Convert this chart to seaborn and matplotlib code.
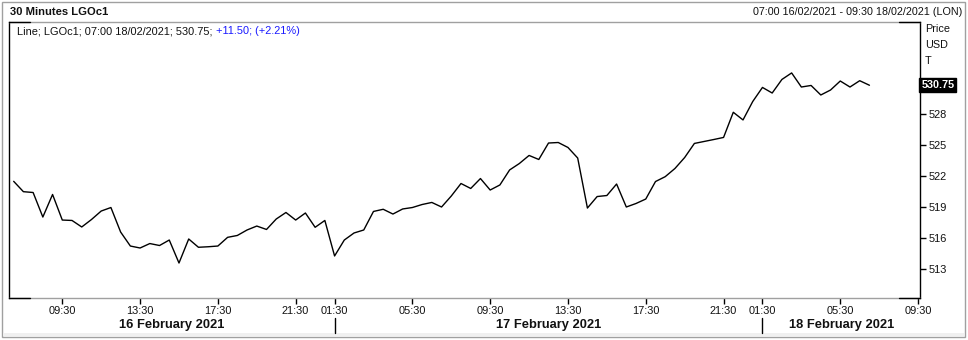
import numpy as np
import pandas as pd
import matplotlib
matplotlib.use("Agg")
import matplotlib.pyplot as plt
import matplotlib.transforms as mtransforms
from matplotlib.patches import Rectangle
from matplotlib.lines import Line2D
import seaborn as sns

# ---------------- data ----------------
sessions = [("2021-02-16", "07:00", "22:30"),
            ("2021-02-17", "01:00", "22:30"),
            ("2021-02-18", "01:00", "09:30")]
day_labels = ["16 February 2021", "17 February 2021", "18 February 2021"]
prices = [
    521.47, 520.47, 520.39, 518.02, 520.20, 517.73, 517.69, 517.06, 517.78, 518.60,
    518.94, 516.57, 515.22, 515.03, 515.46, 515.27, 515.80, 513.58, 515.90, 515.10,
    515.15, 515.22, 516.06, 516.24, 516.77, 517.15, 516.82, 517.83, 518.46, 517.73,
    518.41, 517.03, 517.69, 514.26, 515.80, 516.48, 516.77, 518.56, 518.77, 518.31,
    518.80, 518.94, 519.23, 519.43, 518.99, 520.05, 521.26, 520.78, 521.74, 520.63,
    521.12, 522.57, 523.19, 523.97, 523.58, 525.17, 525.22, 524.74, 523.72, 518.89,
    520.00, 520.10, 521.21, 518.99, 519.33, 519.76, 521.45, 521.92, 522.71, 523.77,
    525.13, 525.32, 525.51, 525.71, 528.14, 527.40, 529.18, 530.54, 530.00, 531.31,
    531.94, 530.58, 530.73, 529.81, 530.29, 531.16, 530.58, 531.19, 530.75,
]
tick_times = ["09:30", "13:30", "17:30", "21:30", "01:30", "05:30"]
day_break_time = "01:30"
y_ticks = [513, 516, 519, 522, 525, 528]
last_price = 530.75
title_text = "30 Minutes LGOc1"
range_text = "07:00 16/02/2021 - 09:30 18/02/2021 (LON)"
legend_black = "Line; LGOc1; 07:00 18/02/2021; 530.75; "
legend_blue = "+11.50; (+2.21%)"
unit_labels = ["Price", "USD", "T"]

# ---------------- build timeline ----------------
bars = pd.concat([pd.Series(pd.date_range(f"{d} {a}", f"{d} {b}", freq="30min"))
                  for d, a, b in sessions], ignore_index=True)
bar_hm = bars.dt.strftime("%H:%M")
df = pd.DataFrame({"idx": np.arange(len(prices)), "price": prices})

tick_idx = [i for i, t in enumerate(bar_hm) if t in tick_times]
tick_lab = [bar_hm[i] for i in tick_idx]
breaks = [i for i, t in enumerate(bar_hm) if t == day_break_time]

# ---------------- style ----------------
sns.set_theme(style="white")
plt.rcParams["font.family"] = ["Liberation Sans", "DejaVu Sans"]

W, H = 968, 340
fig = plt.figure(figsize=(W / 100, H / 100), dpi=100)
fig.patch.set_facecolor("white")

def fx(px):
    return px / W

def fy(py):
    return 1 - py / H

# outer frame and bottom band
fig.patches.append(Rectangle((fx(2), fy(337)), fx(963), 335 / H, transform=fig.transFigure,
                             fill=False, edgecolor="#a0a0a0", lw=1.0))
fig.patches.append(Rectangle((fx(3), fy(336)), fx(961), 3.5 / H, transform=fig.transFigure,
                             facecolor="#f0f0f0", edgecolor="none"))

ax_l, ax_r, ax_t, ax_b = 9, 920, 22, 298
ax = fig.add_axes([fx(ax_l), fy(ax_b), (ax_r - ax_l) / W, (ax_b - ax_t) / H])
ax.set_facecolor("white")

sns.lineplot(data=df, x="idx", y="price", color="black", lw=1.0, ax=ax,
             legend=False)

xmin, xmax = -0.48, 93.2
ax.set_xlim(xmin, xmax)
ax.set_ylim(510.2, 536.86)

# spines
for s in ["left", "right"]:
    ax.spines[s].set_visible(True)
    ax.spines[s].set_color("black")
    ax.spines[s].set_linewidth(1.0)
for s in ["top", "bottom"]:
    ax.spines[s].set_visible(True)
    ax.spines[s].set_color("#a0a0a0")
    ax.spines[s].set_linewidth(1.0)
cw = 21 / (ax_r - ax_l)
for yy in (0, 1):
    for x0 in (0, 1 - cw):
        ax.add_line(Line2D([x0, x0 + cw], [yy, yy], transform=ax.transAxes,
                           color="black", lw=1.0, clip_on=False, zorder=5))

# y axis on right
ax.yaxis.tick_right()
ax.set_yticks(y_ticks)
ax.set_yticklabels([str(v) for v in y_ticks])
ax.tick_params(axis="y", which="major", right=True, left=False, direction="out",
               length=4, width=1, color="black", pad=2.5, labelsize=7.9,
               labelcolor="#111111")
ax.set_ylabel("")

# x axis
ax.set_xticks(tick_idx)
ax.set_xticklabels(tick_lab)
ax.tick_params(axis="x", which="major", bottom=True, direction="out", length=4,
               width=1, color="black", pad=1.5, labelsize=7.9, labelcolor="#111111")
ax.set_xlabel("")

# day labels & separators
bounds = [xmin] + breaks + [xmax]
trans_xd = mtransforms.blended_transform_factory(ax.transData, fig.transFigure)
for k, lab in enumerate(day_labels):
    cx = (bounds[k] + bounds[k + 1]) / 2
    fig.text(cx, fy(325), lab, transform=trans_xd, fontsize=9.3, fontweight="bold",
             ha="center", va="center", color="#111111")
for b in breaks:
    fig.add_artist(Line2D([b, b], [fy(318), fy(333)], transform=trans_xd,
                          color="black", lw=1.0))

# header texts
fig.text(fx(10), fy(12), title_text, fontsize=8.1, fontweight="bold",
         ha="left", va="center", color="#111111")
fig.text(fx(962), fy(12), range_text, fontsize=7.75, ha="right", va="center",
         color="#111111")

# legend line
t1 = ax.text((17 - ax_l) / (ax_r - ax_l), (ax_b - 31.5) / (ax_b - ax_t), legend_black,
             transform=ax.transAxes, fontsize=7.9, ha="left", va="center",
             color="#111111")
ax.annotate(legend_blue, xy=(1, 0.5), xycoords=t1, ha="left", va="center",
            fontsize=7.9, color="#1a1aff")

# unit labels
for k, u in enumerate(unit_labels):
    fig.text(fx(925), fy(29.5 + 15.7 * k), u, fontsize=7.8, ha="left", va="center",
             color="#111111")

# last price tag
trans_ay = mtransforms.blended_transform_factory(ax.transAxes, ax.transData)
ax.text(1.0015, last_price, f"{last_price:.2f}", transform=trans_ay, fontsize=7.8,
        fontweight="bold", color="white", ha="left", va="center", clip_on=False,
        bbox=dict(boxstyle="square,pad=0.18", facecolor="black", edgecolor="black"))

fig.savefig("out.png", dpi=100)
